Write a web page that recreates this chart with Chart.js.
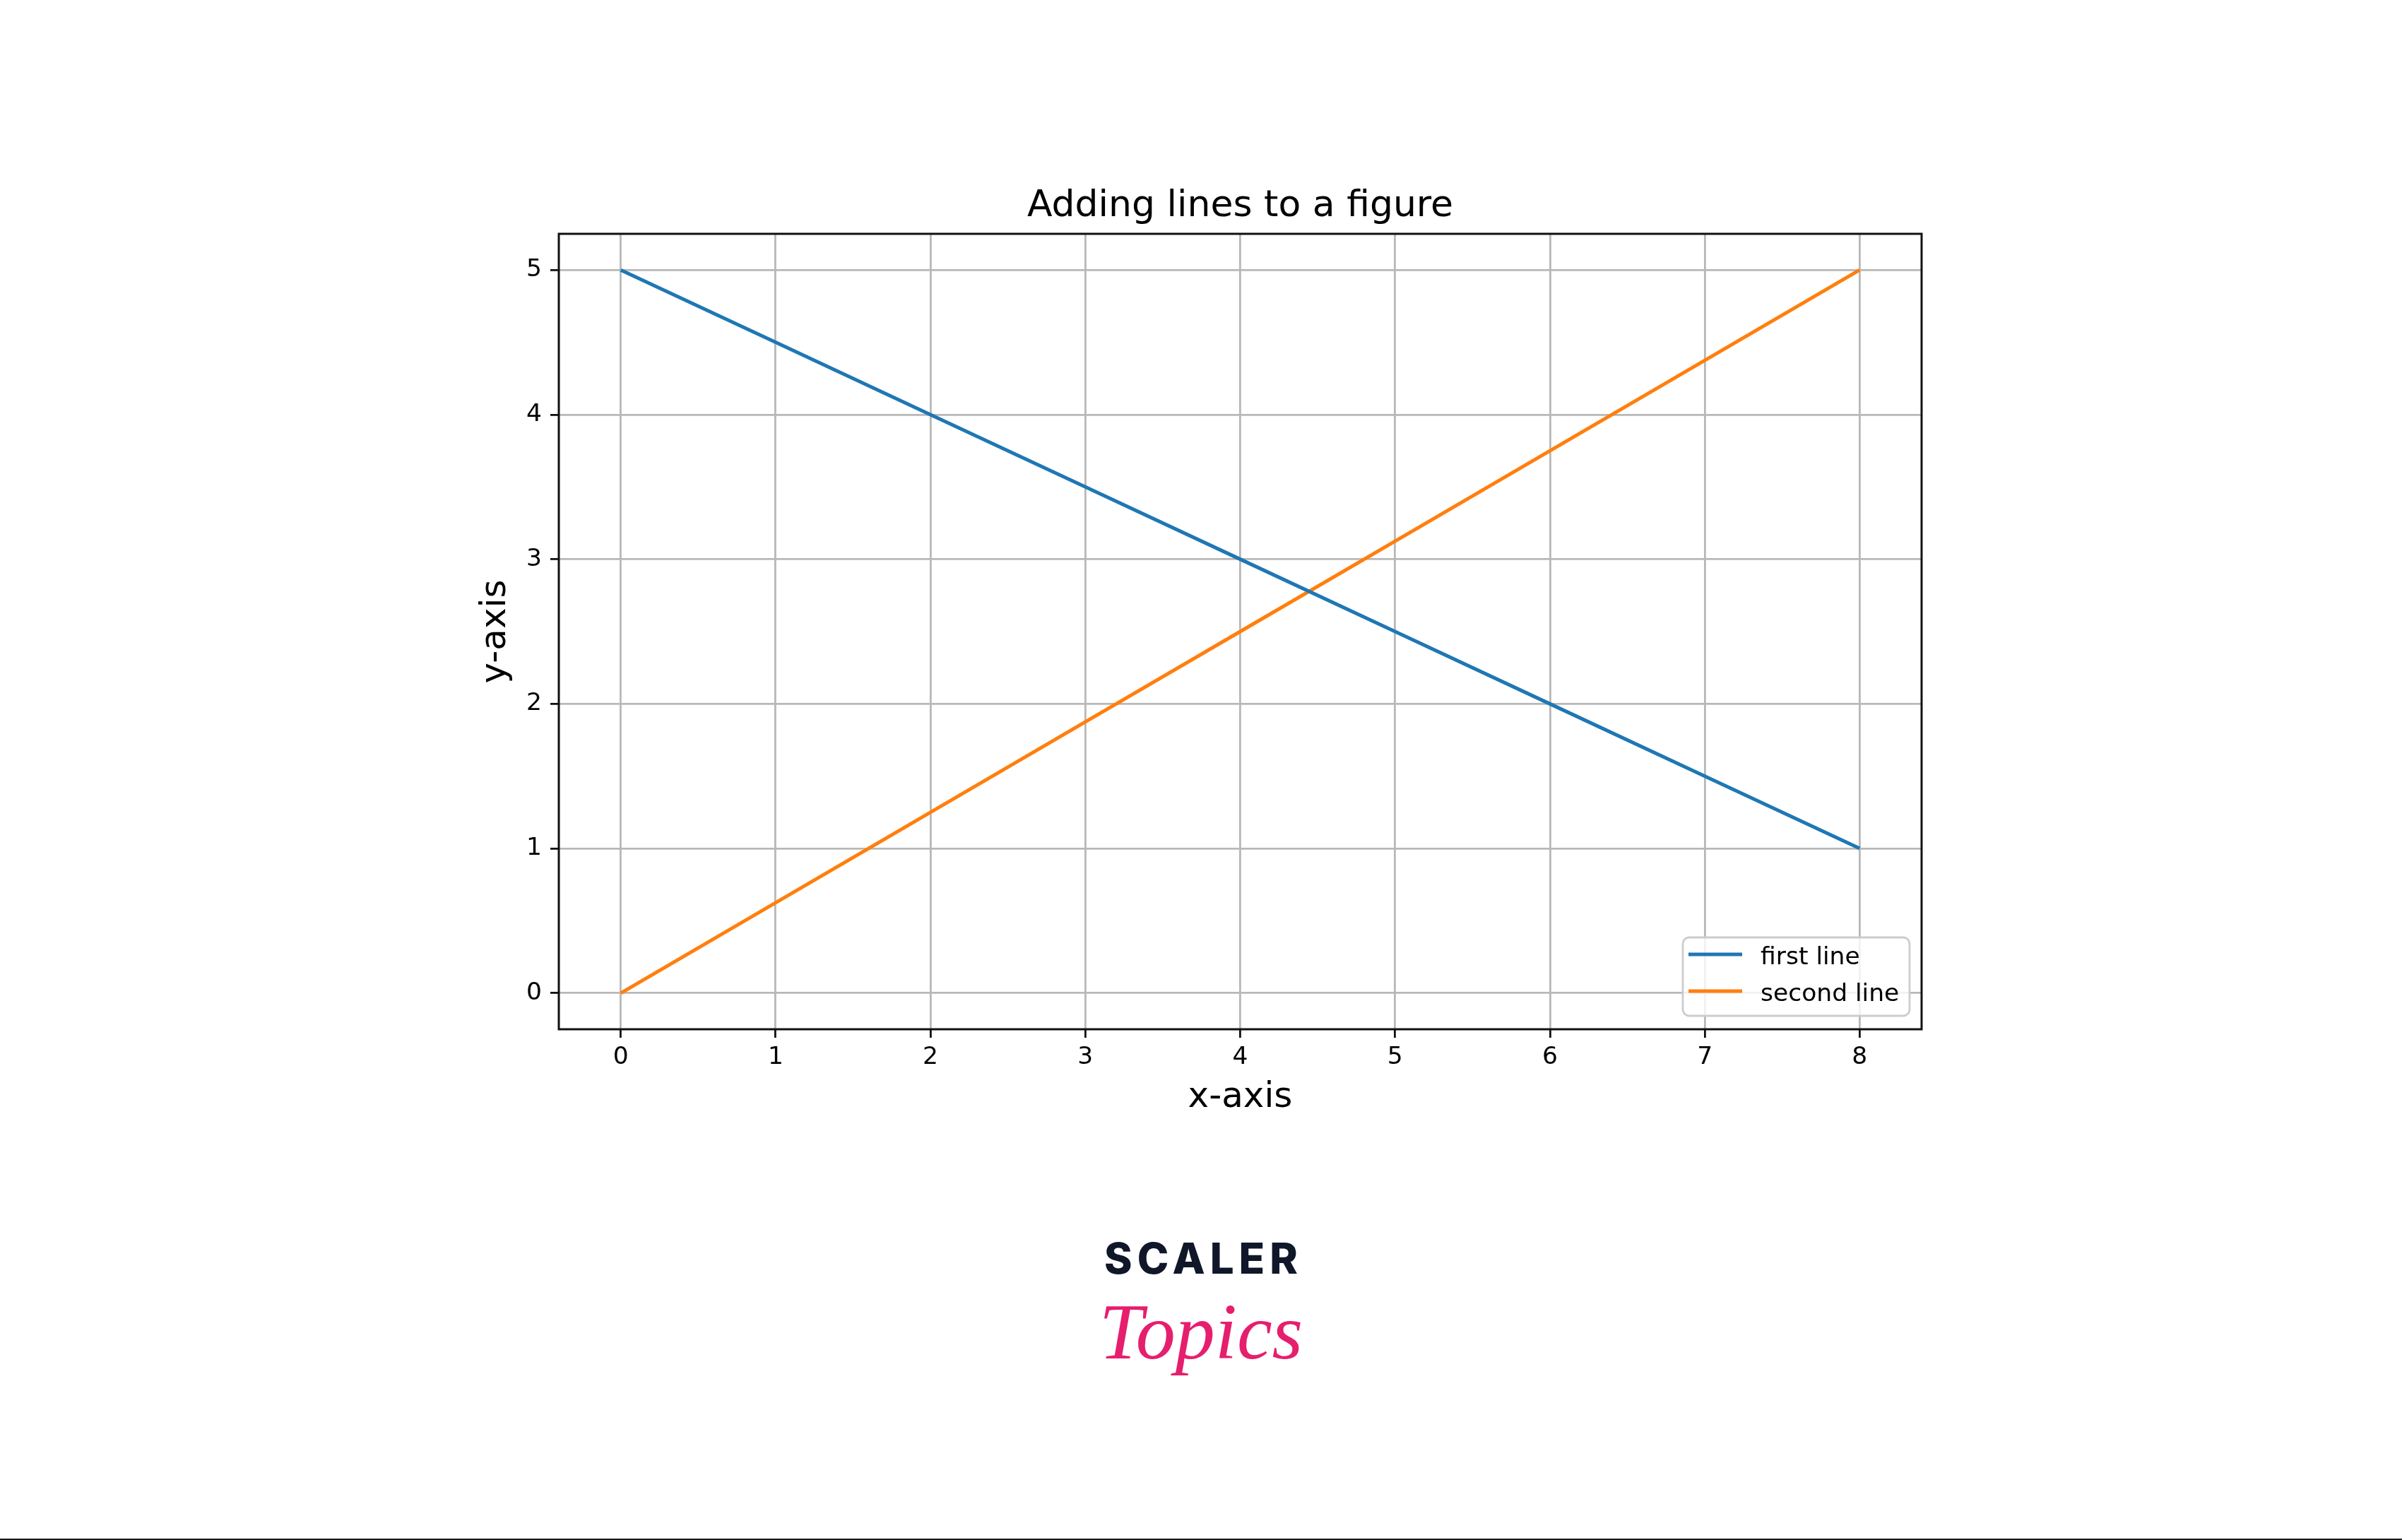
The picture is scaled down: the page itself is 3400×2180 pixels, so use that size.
<!DOCTYPE html>
<html>
<head>
<meta charset="utf-8">
<title>Adding lines to a figure</title>
<script src="https://cdn.jsdelivr.net/npm/chart.js@4.4.1/dist/chart.umd.min.js"></script>
<style>
  html, body { margin: 0; padding: 0; background: #ffffff; }
  #page { position: relative; width: 3400px; height: 2180px; overflow: hidden; background: #ffffff; }
  #chart { position: absolute; left: 0; top: 0; }
  .brand { position: absolute; left: 0; width: 3400px; text-align: center; white-space: nowrap; line-height: 1; }
  #brand-top { top: 1751px; font-family: "Inter", "Lato", sans-serif; font-weight: 800; font-size: 60px;
               letter-spacing: 7px; padding-left: 7px; box-sizing: border-box; color: #0f1729; }
  #brand-bottom { top: 1829px; font-family: "Liberation Serif", serif; font-style: italic; font-size: 112px; color: #e61e6e; }
  #rule { position: absolute; left: 0; top: 2178px; width: 3400px; height: 2px; background: #1a1a1a; }
</style>
</head>
<body>
<div id="page">
  <canvas id="chart" width="3400" height="2180"></canvas>
  <div class="brand" id="brand-top">SCALER</div>
  <div class="brand" id="brand-bottom">Topics</div>
  <div id="rule"></div>
</div>
<script>
// x positions shared by both series
const xValues = [0, 1, 2, 3, 4, 5, 6, 7, 8];
// series values
const firstLine  = [5, 4.5, 4, 3.5, 3, 2.5, 2, 1.5, 1];
const secondLine = [0, 0.625, 1.25, 1.875, 2.5, 3.125, 3.75, 4.375, 5];
const seriesNames = ['first line', 'second line'];
// tick positions and labels
const xTicks = [0, 1, 2, 3, 4, 5, 6, 7, 8];
const xTickLabels = ['0', '1', '2', '3', '4', '5', '6', '7', '8'];
const yTicks = [0, 1, 2, 3, 4, 5];
const yTickLabels = ['0', '1', '2', '3', '4', '5'];

const toPoints = (xs, ys) => xs.map((x, i) => ({ x: x, y: ys[i] }));

const FONT = '"DejaVu Sans", sans-serif';
const GRID = '#b8b8b8';
const INK = '#111111';

// black frame round the plotting area, drawn over the lines
const framePlugin = {
  id: 'frame',
  afterDatasetsDraw(chart) {
    const { ctx, chartArea: a } = chart;
    ctx.save();
    ctx.strokeStyle = INK;
    ctx.lineWidth = 3;
    ctx.strokeRect(a.left, a.top, a.right - a.left, a.bottom - a.top);
    ctx.restore();
  }
};

// boxed legend in the lower right corner of the plotting area
const boxLegendPlugin = {
  id: 'boxLegend',
  afterDraw(chart) {
    const { ctx, chartArea: a } = chart;
    const w = 321, h = 111, r = 9;
    const x = a.right - 17 - w, y = a.bottom - 19 - h;
    ctx.save();
    ctx.beginPath();
    ctx.moveTo(x + r, y);
    ctx.arcTo(x + w, y, x + w, y + h, r);
    ctx.arcTo(x + w, y + h, x, y + h, r);
    ctx.arcTo(x, y + h, x, y, r);
    ctx.arcTo(x, y, x + w, y, r);
    ctx.closePath();
    ctx.fillStyle = 'rgba(255,255,255,0.8)';
    ctx.fill();
    ctx.strokeStyle = '#cccccc';
    ctx.lineWidth = 2.8;
    ctx.stroke();
    chart.data.datasets.forEach((ds, i) => {
      const rowY = y + 24 + i * 52;
      ctx.beginPath();
      ctx.moveTo(x + 8, rowY);
      ctx.lineTo(x + 84, rowY);
      ctx.strokeStyle = ds.borderColor;
      ctx.lineWidth = 5;
      ctx.lineCap = 'butt';
      ctx.stroke();
      ctx.fillStyle = '#000000';
      ctx.font = '34.5px ' + FONT;
      ctx.textAlign = 'left';
      ctx.textBaseline = 'alphabetic';
      ctx.fillText(ds.label, x + 110, rowY + 14);
    });
    ctx.restore();
  }
};

Chart.defaults.font.family = FONT;
Chart.defaults.color = '#000000';

new Chart(document.getElementById('chart'), {
  type: 'line',
  data: {
    datasets: [
      {
        label: seriesNames[0],
        data: toPoints(xValues, firstLine),
        borderColor: '#1f77b4',
        backgroundColor: '#1f77b4',
        borderWidth: 5,
        pointRadius: 0,
        tension: 0,
        fill: false
      },
      {
        label: seriesNames[1],
        data: toPoints(xValues, secondLine),
        borderColor: '#ff7f0e',
        backgroundColor: '#ff7f0e',
        borderWidth: 5,
        pointRadius: 0,
        tension: 0,
        fill: false
      }
    ]
  },
  options: {
    responsive: false,
    animation: false,
    devicePixelRatio: 1,
    layout: { padding: { left: 640, right: 680, top: 261, bottom: 583 } },
    plugins: {
      legend: { display: false },
      tooltip: { enabled: false },
      title: {
        display: true,
        fullSize: false,
        text: 'Adding lines to a figure',
        color: '#000000',
        font: { size: 52, weight: 'normal', family: FONT, lineHeight: 1.2 },
        padding: { top: 0, bottom: 7.6 }
      }
    },
    scales: {
      x: {
        type: 'linear',
        min: -0.4,
        max: 8.4,
        afterBuildTicks(scale) { scale.ticks = xTicks.map(v => ({ value: v })); },
        afterFit(scale) { scale.height = 140; },
        ticks: {
          autoSkip: false,
          maxRotation: 0,
          padding: 7,
          color: '#000000',
          font: { size: 34.5, family: FONT },
          callback: (v) => { const i = xTicks.indexOf(v); return i >= 0 ? xTickLabels[i] : ''; }
        },
        grid: {
          color: GRID,
          lineWidth: 2.8,
          drawTicks: true,
          tickLength: 12,
          tickColor: INK,
          tickWidth: 2.8
        },
        border: { display: false },
        title: {
          display: true,
          text: 'x-axis',
          color: '#000000',
          font: { size: 50, family: FONT, lineHeight: 1.2 },
          padding: { top: 0, bottom: 13 }
        }
      },
      y: {
        type: 'linear',
        min: -0.25,
        max: 5.25,
        afterBuildTicks(scale) { scale.ticks = yTicks.map(v => ({ value: v })); },
        afterFit(scale) { scale.width = 151; },
        ticks: {
          autoSkip: false,
          padding: 12,
          color: '#000000',
          font: { size: 34.5, family: FONT },
          callback: (v) => { const i = yTicks.indexOf(v); return i >= 0 ? yTickLabels[i] : ''; }
        },
        grid: {
          color: GRID,
          lineWidth: 2.8,
          drawTicks: true,
          tickLength: 12,
          tickColor: INK,
          tickWidth: 2.8
        },
        border: { display: false },
        title: {
          display: true,
          text: 'y-axis',
          color: '#000000',
          font: { size: 50, family: FONT, lineHeight: 1.2 },
          padding: { top: 32, bottom: 0 }
        }
      }
    }
  },
  plugins: [framePlugin, boxLegendPlugin]
});
</script>
</body>
</html>
